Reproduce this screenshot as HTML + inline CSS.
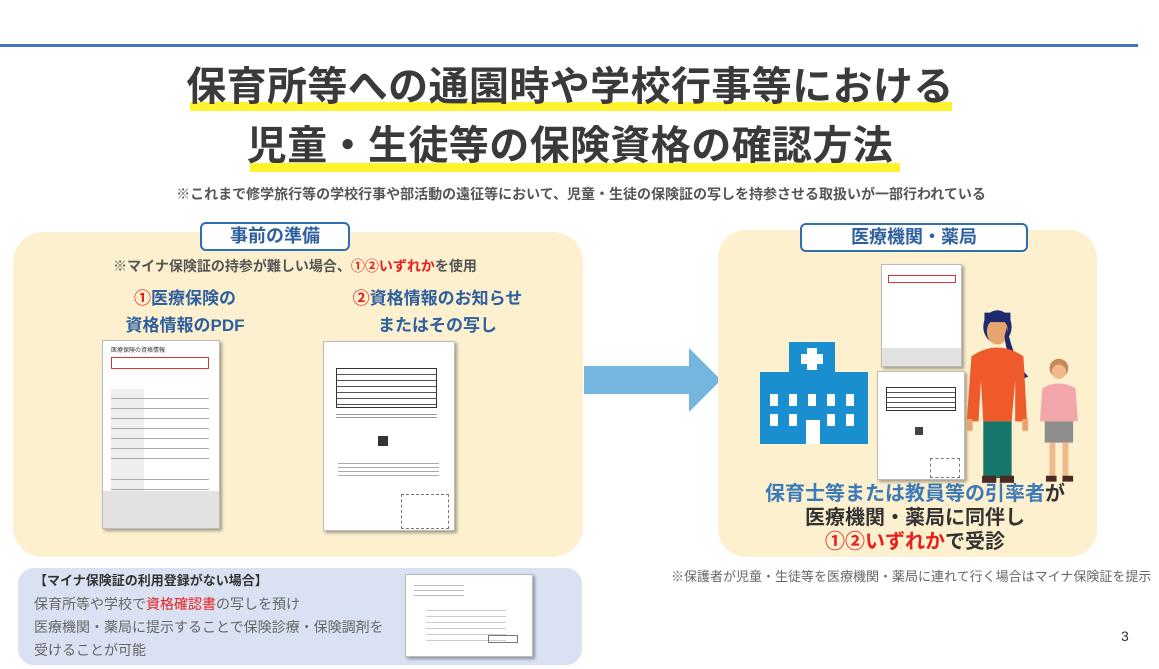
<!DOCTYPE html>
<html><head><meta charset="utf-8">
<style>
*{margin:0;padding:0;box-sizing:border-box}
body{width:1159px;height:669px;background:#fff;position:relative;overflow:hidden;font-family:"Liberation Sans","Noto Sans CJK JP",sans-serif;}
.a{position:absolute}
.c{text-align:center;white-space:nowrap}
.blue{color:#2e5f9e}
.red{color:#e8201c}
.lbl{position:absolute;background:#fff;border:2px solid #2e6fb0;border-radius:6px;color:#2e5f9e;font-weight:bold;font-size:18px;text-align:center;line-height:25px}
.doc{position:absolute;background:#fff;box-shadow:2px 2px 3px rgba(0,0,0,.35);border:1px solid #bbb}
.ln{position:absolute;height:1px;background:#aaa}
</style></head><body>
<div class="a" style="left:0;top:44px;width:1138px;height:3px;background:#4472c4"></div>

<div class="a" style="left:190px;top:102px;width:762px;height:9px;background:#fff22e"></div>
<div class="a" style="left:250px;top:163px;width:650px;height:9px;background:#fff22e"></div>
<div class="a c" style="left:0;width:1140px;top:62px;font-size:40px;letter-spacing:0.4px;font-weight:bold;color:#3a3a3a;line-height:50px">保育所等への通園時や学校行事等における</div>
<div class="a c" style="left:0;width:1140px;top:121px;font-size:40px;letter-spacing:0.4px;font-weight:bold;color:#3a3a3a;line-height:50px">児童・生徒等の保険資格の確認方法</div>
<div class="a c" style="left:0;width:1162px;top:184px;font-size:14px;font-weight:bold;color:#555">※これまで修学旅行等の学校行事や部活動の遠征等において、児童・生徒の保険証の写しを持参させる取扱いが一部行われている</div>

<!-- left panel -->
<div class="a" style="left:13px;top:232px;width:570px;height:325px;background:#fdf0cf;border-radius:30px"></div>
<div class="lbl" style="left:200px;top:222px;width:150px;height:29px">事前の準備</div>
<div class="a c" style="left:90px;width:410px;top:256px;font-size:14px;font-weight:bold;color:#555">※マイナ保険証の持参が難しい場合、<span class="red">①②いずれか</span>を使用</div>
<div class="a c blue" style="left:80px;width:210px;top:285px;font-size:17px;font-weight:bold;line-height:27px"><span class="red">①</span>医療保険の<br>資格情報のPDF</div>
<div class="a c blue" style="left:330px;width:215px;top:285px;font-size:17px;font-weight:bold;line-height:27px"><span class="red">②</span>資格情報のお知らせ<br>またはその写し</div>

<div class="doc" style="left:102px;top:340px;width:118px;height:189px;">
 <div class="a" style="left:8px;top:4px;font-size:6px;color:#333">医療保険の資格情報</div>
 <div class="a" style="left:8px;top:16px;width:98px;height:12px;border:1px solid #d33"></div>
 <div class="a" style="left:8px;top:48px;width:98px;height:108px;background:linear-gradient(90deg,#eee 33px,#fff 33px)"></div>
 <div class="ln" style="left:8px;top:57px;width:98px"></div><div class="ln" style="left:8px;top:67px;width:98px"></div><div class="ln" style="left:8px;top:77px;width:98px"></div><div class="ln" style="left:8px;top:87px;width:98px"></div><div class="ln" style="left:8px;top:97px;width:98px"></div><div class="ln" style="left:8px;top:107px;width:98px"></div><div class="ln" style="left:8px;top:117px;width:98px"></div><div class="ln" style="left:8px;top:138px;width:98px"></div><div class="ln" style="left:8px;top:148px;width:98px"></div>
 <div class="a" style="left:0;top:150px;width:116px;height:37px;background:#e2e2e2"></div>
</div>

<div class="doc" style="left:323px;top:341px;width:132px;height:190px;">
 <div class="a" style="left:12px;top:26px;width:101px;height:40px;border:1px solid #333;background:repeating-linear-gradient(#fff 0,#fff 5px,#555 5px,#555 6px)"></div>
 <div class="a" style="left:12px;top:70px;width:101px;height:8px;background:repeating-linear-gradient(#fff 0,#fff 2px,#999 2px,#999 3px)"></div>
 <div class="a" style="left:54px;top:94px;width:10px;height:10px;background:#333"></div>
 <div class="a" style="left:14px;top:118px;width:101px;height:16px;background:repeating-linear-gradient(#fff 0,#fff 3px,#aaa 3px,#aaa 4px)"></div>
 <div class="a" style="left:77px;top:152px;width:48px;height:35px;border:1px dashed #777"></div>
</div>

<!-- arrow -->
<svg class="a" style="left:584px;top:348px" width="140" height="66"><polygon points="0,18 105,18 105,0 137,32 105,64 105,46 0,46" fill="#75b6df"/></svg>

<!-- right panel -->
<div class="a" style="left:718px;top:230px;width:379px;height:327px;background:#fdf0cf;border-radius:28px"></div>
<div class="lbl" style="left:800px;top:223px;width:228px;height:29px">医療機関・薬局</div>

<svg class="a" style="left:760px;top:342px" width="110" height="102">
 <rect x="29" y="0" width="46" height="30" fill="#1a8fd0"/>
 <rect x="0" y="30" width="108" height="72" fill="#1a8fd0"/>
 <rect x="47" y="6" width="10" height="22" fill="#fff"/><rect x="41" y="12" width="22" height="10" fill="#fff"/>
 <g fill="#fff"><rect x="10" y="52" width="8" height="12"/><rect x="29" y="52" width="8" height="12"/><rect x="48" y="52" width="8" height="12"/><rect x="67" y="52" width="8" height="12"/><rect x="86" y="52" width="8" height="12"/>
 <rect x="10" y="72" width="8" height="12"/><rect x="29" y="72" width="8" height="12"/><rect x="67" y="72" width="8" height="12"/><rect x="86" y="72" width="8" height="12"/>
 <rect x="46" y="78" width="14" height="24"/></g>
</svg>

<div class="doc" style="left:881px;top:264px;width:81px;height:103px">
 <div class="a" style="left:6px;top:10px;width:68px;height:8px;border:1px solid #d33"></div>
 <div class="a" style="left:0;top:83px;width:79px;height:18px;background:#e2e2e2"></div>
</div>
<div class="doc" style="left:877px;top:371px;width:88px;height:109px">
 <div class="a" style="left:8px;top:15px;width:70px;height:24px;border:1px solid #333;background:repeating-linear-gradient(#fff 0,#fff 4px,#555 4px,#555 5px)"></div>
 <div class="a" style="left:37px;top:55px;width:8px;height:8px;background:#444"></div>
 <div class="a" style="left:52px;top:86px;width:30px;height:20px;border:1px dashed #777"></div>
</div>

<svg class="a" style="left:962px;top:303px" width="130" height="180" viewBox="0 0 110 152">
 <ellipse cx="30" cy="20" rx="12" ry="14" fill="#1d2b6e"/>
 <ellipse cx="30" cy="24" rx="9" ry="11" fill="#e6a56f"/>
 <rect x="19" y="8" width="22" height="8" fill="#1d2b6e"/>
 <path d="M38 20 Q44 50 56 62 L52 64 Q38 50 36 28Z" fill="#1d2b6e"/>
 <path d="M8 45 Q30 30 52 45 L55 100 L45 100 L45 65 L42 100 L18 100 L16 65 L14 100 L4 100Z" fill="#ee5a2a"/>
 <rect x="18" y="100" width="24" height="48" fill="#17766b"/>
 <rect x="17" y="146" width="12" height="6" fill="#4a2a22"/><rect x="32" y="146" width="12" height="6" fill="#4a2a22"/>
 <rect x="4" y="98" width="5" height="10" fill="#e6a56f"/><rect x="51" y="98" width="5" height="10" fill="#e6a56f"/>
 <circle cx="82" cy="55" r="8" fill="#c48a57"/><circle cx="82" cy="58" r="6" fill="#f0b98a"/>
 <path d="M68 72 Q82 64 96 72 L98 100 L66 100Z" fill="#f3a6a9"/>
 <rect x="70" y="100" width="24" height="18" fill="#8e8e8e"/>
 <rect x="74" y="118" width="5" height="28" fill="#f0b98a"/><rect x="85" y="118" width="5" height="28" fill="#f0b98a"/>
 <rect x="71" y="146" width="9" height="5" fill="#4a2a22"/><rect x="85" y="146" width="9" height="5" fill="#4a2a22"/>
</svg>

<div class="a c" style="left:715px;width:400px;top:482px;font-size:20px;font-weight:bold;color:#333;line-height:24px"><span style="color:#3d7ab8">保育士等または教員等の引率者</span>が<br>医療機関・薬局に同伴し<br><span class="red">①②いずれか</span>で受診</div>

<div class="a" style="left:671px;top:566px;font-size:13px;color:#666;white-space:nowrap">※保護者が児童・生徒等を医療機関・薬局に連れて行く場合はマイナ保険証を提示</div>

<!-- bottom box -->
<div class="a" style="left:18px;top:568px;width:564px;height:97px;background:#d9e1f2;border-radius:16px"></div>
<div class="a" style="left:34px;top:571px;font-size:13px;font-weight:bold;color:#333;line-height:20px">【マイナ保険証の利用登録がない場合】</div>
<div class="a" style="left:34px;top:593px;font-size:14px;color:#666;line-height:23px;white-space:nowrap">保育所等や学校で<span class="red">資格確認書</span>の写しを預け<br>医療機関・薬局に提示することで保険診療・保険調剤を<br>受けることが可能</div>
<div class="doc" style="left:405px;top:574px;width:128px;height:83px">
 <div class="a" style="left:8px;top:6px;width:50px;height:18px;background:repeating-linear-gradient(#fff 0,#fff 4px,#bbb 4px,#bbb 5px)"></div>
 <div class="a" style="left:20px;top:30px;width:80px;height:40px;background:repeating-linear-gradient(#fff 0,#fff 5px,#ccc 5px,#ccc 6px)"></div>
 <div class="a" style="left:82px;top:60px;width:30px;height:8px;border:1px solid #777"></div>
</div>

<div class="a" style="left:1121px;top:628px;font-size:14px;color:#333">3</div>
</body></html>
